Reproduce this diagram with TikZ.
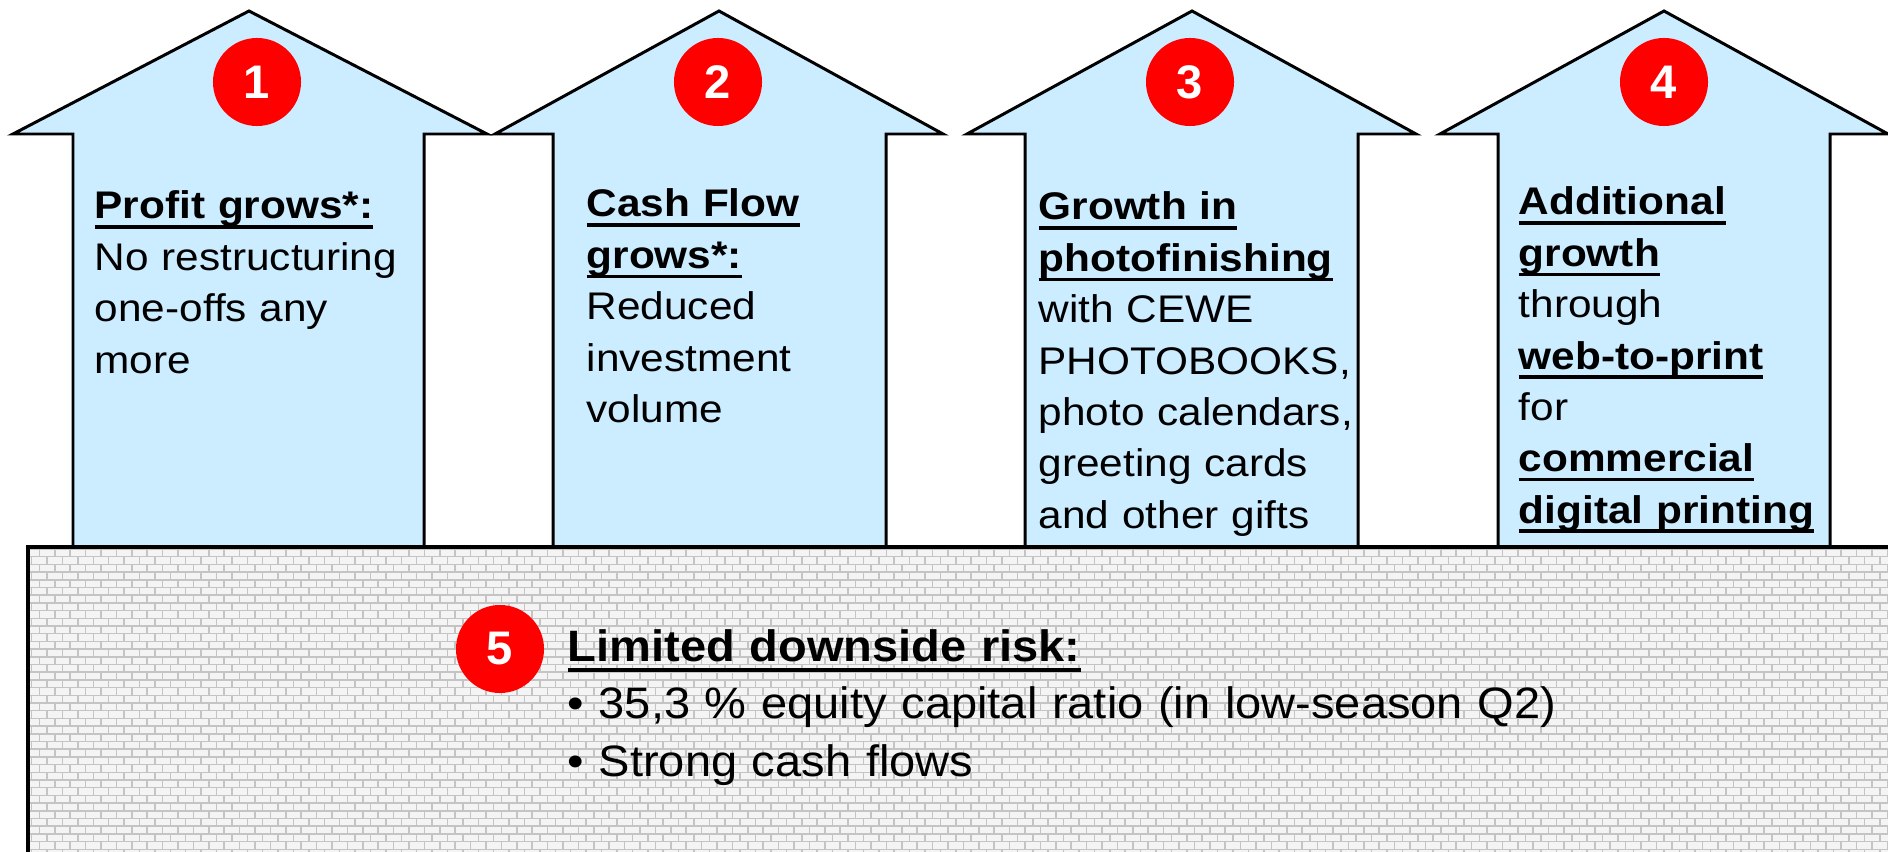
\documentclass[tikz,border=0pt]{standalone}
\usepackage{fontspec}
\setmainfont{Liberation Sans}
\newfontfamily\arrowfont{Liberation Sans}[FakeStretch=1.1]
\newfontfamily\basefont{Liberation Sans}[FakeStretch=1.07]
\usepackage{tikz}
\usetikzlibrary{positioning}
\definecolor{arrowblue}{HTML}{CCECFF}
\definecolor{dotred}{HTML}{FF0000}
\definecolor{mortar}{HTML}{C4C4C4}
\definecolor{brick}{HTML}{F4F4F4}
\tikzstyle{uparrow}=[draw,fill=arrowblue,line width=0.85pt]
\tikzstyle{numdot}=[circle,fill=dotred,text=white,minimum size=0.88cm,inner sep=0pt,font=\bfseries\fontsize{13.4pt}{14pt}\selectfont]
\tikzstyle{arrowtext}=[anchor=base west,inner sep=0pt,text width=3.6cm,align=left,font=\arrowfont\fontsize{10.95pt}{14.6pt}\selectfont]
\tikzstyle{basetext}=[anchor=base west,inner sep=0pt,text width=12cm,align=left,font=\basefont\fontsize{12.5pt}{16.4pt}\selectfont]
\tikzstyle{mortarline}=[draw=mortar,line width=0.45pt]
\newsavebox\ulbox
\newcommand{\undl}[1]{\leavevmode\sbox\ulbox{\textbf{#1}}\rlap{\rule[-0.25em]{\wd\ulbox}{0.085em}}\usebox\ulbox}

\begin{document}
\begin{tikzpicture}[x=0.01cm,y=-0.01cm]
\useasboundingbox (0,0) rectangle (1888,852);

% the four arrows
\draw[uparrow] (249,11) -- (487,134) -- (424,134) -- (424,547) -- (73,547) -- (73,134) -- (13,134) -- cycle;
\draw[uparrow] (719,11) -- (943,134) -- (886,134) -- (886,547) -- (553,547) -- (553,134) -- (495,134) -- cycle;
\draw[uparrow] (1192,11) -- (1416,134) -- (1358,134) -- (1358,547) -- (1025,547) -- (1025,134) -- (967,134) -- cycle;
\draw[uparrow] (1664,11) -- (1888,134) -- (1830,134) -- (1830,547) -- (1498,547) -- (1498,134) -- (1440,134) -- cycle;

% brick wall base
\begin{scope}
\clip (28,547) rectangle (1888,852);
\fill[brick] (28,547) rectangle (1888,852);
\foreach \r in {0,...,40} {
  \pgfmathsetmacro\off{mod(\r,2)*7.7}
  \draw[mortarline] (28,549+\r*7.7) -- (1888,549+\r*7.7)
    \foreach \c in {0,...,122} { (24+\off+\c*15.4,549+\r*7.7) -- ++(0,7.7) };
}
\end{scope}
\draw[line width=1.1pt] (28,547) rectangle (1900,870);

\node[numdot] (n1) at (257,82) {1};
\node[numdot] (n2) at (718,82) {2};
\node[numdot] (n3) at (1190,82) {3};
\node[numdot] (n4) at (1664,82) {4};
\node[numdot] (n5) at (500,649) {5};

\node[arrowtext] (t1) at (94,219) {\undl{Profit grows*:}\\No restructuring\\one-offs any\\more};
\node[arrowtext] (t2) at (586,217) {\undl{Cash Flow}\\\undl{grows*:}\\Reduced\\investment\\volume};
\node[arrowtext] (t3) at (1038,220) {\undl{Growth in}\\\undl{photofinishing}\\with CEWE\\PHOTOBOOKS,\\photo calendars,\\greeting cards\\and other gifts};
\node[arrowtext] (t4) at (1518,215) {\undl{Additional}\\\undl{growth}\\through\\\undl{web-to-print}\\for\\\undl{commercial}\\\undl{digital printing}};

\node[basetext] (t5) at (567,661) {\undl{Limited downside risk:}\\• 35,3 \% equity capital ratio (in low-season Q2)\\• Strong cash flows};
\end{tikzpicture}
\end{document}
